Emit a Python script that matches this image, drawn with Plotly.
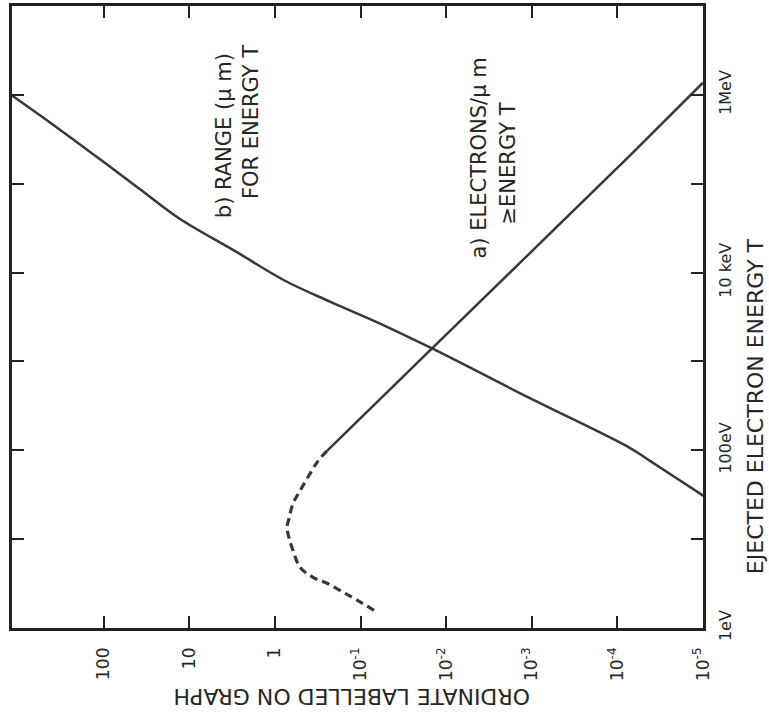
import plotly.graph_objects as go

# ---- data ----
# b) range (um) for energy T
range_energy_eV = [1.06e6, 4.89e5, 1.88e5, 8.67e4, 4.0e4, 1.80e4, 8090, 4710, 2670, 1400, 386, 106, 76, 32.5, 26.4]
range_um = [1310, 423, 110, 37.6, 12.8, 3.08, 0.762, 0.227, 0.0592, 0.0146, 1.05e-3, 7.1e-5, 4.16e-5, 1.08e-5, 7.85e-6]

# a) electrons / um with energy >= T (solid part)
elec_energy_eV = [98.4, 377, 1400, 2.08e5, 1.37e6]
elec_per_um = [0.246, 0.0592, 0.0146, 7.1e-5, 1.0e-5]

# a) low-energy extrapolation (dashed part)
elec_low_energy_eV = [98.4, 76.0, 54.5, 35.1, 25.1, 17.1, 13.5, 10.4, 7.46, 4.82, 3.72, 3.19, 2.53, 2.06, 1.51]
elec_low_per_um = [0.246, 0.313, 0.389, 0.508, 0.614, 0.684, 0.721, 0.684, 0.614, 0.508, 0.359, 0.246, 0.160, 0.110, 0.0641]

# axis ticks
ord_tickvals = [100, 10, 1, 0.1, 0.01, 1e-3, 1e-4, 1e-5]
ord_ticktext = ["100", "10", "1", "10<sup>-1</sup>", "10<sup>-2</sup>", "10<sup>-3</sup>",
                "10<sup>-4</sup>", "10<sup>-5</sup>"]
en_tickvals = [1, 100, 1e4, 1e6]
en_ticktext = ["1eV", "100eV", "10 keV", "1MeV"]
en_minor_tickvals = [10, 1e3, 1e5]

FONT = "DejaVu Sans"
INK = "#262626"
LINE = "#383838"

fig = go.Figure()
fig.add_trace(go.Scatter(x=range_um, y=range_energy_eV, mode="lines",
                         line=dict(color=LINE, width=2.5, shape="spline", smoothing=1.0),
                         hoverinfo="skip"))
fig.add_trace(go.Scatter(x=elec_per_um, y=elec_energy_eV, mode="lines",
                         line=dict(color=LINE, width=2.5),
                         hoverinfo="skip"))
fig.add_trace(go.Scatter(x=elec_low_per_um, y=elec_low_energy_eV, mode="lines",
                         line=dict(color=LINE, width=3.2, shape="spline", smoothing=1.0,
                                   dash="8px,5px"),
                         hoverinfo="skip"))

axis_common = dict(showgrid=False, zeroline=False, showline=True, linecolor="#222",
                   linewidth=2.5, mirror="ticks", ticks="inside", ticklen=12,
                   tickwidth=2, tickcolor="#222", tickangle=-90)

fig.update_xaxes(type="log", range=[3.07, -5], tickvals=ord_tickvals, ticktext=ord_ticktext,
                 tickfont=dict(family=FONT, size=17, color=INK), ticklabelstandoff=10,
                 **axis_common)
fig.update_yaxes(type="log", range=[0, 7], side="right", tickvals=en_tickvals,
                 ticktext=en_ticktext, tickfont=dict(family=FONT, size=16, color=INK),
                 ticklabelstandoff=6,
                 minor=dict(tickmode="array", tickvals=en_minor_tickvals, ticks="inside",
                            ticklen=12, tickwidth=2, tickcolor="#222", showgrid=False),
                 **axis_common)

def label(text, x, y, angle, size):
    fig.add_annotation(text=text, xref="paper", yref="paper", x=x, y=y,
                       xanchor="center", yanchor="middle", showarrow=False,
                       textangle=angle, font=dict(family=FONT, size=size, color=INK))

label("b) RANGE (μ m)", 0.308, 0.792, -90, 21)
label("FOR ENERGY T", 0.347, 0.813, -90, 21)
label("a) ELECTRONS/μ m", 0.676, 0.755, -90, 21)
label("≥ENERGY T", 0.718, 0.747, -90, 21)
label("ORDINATE LABELLED ON GRAPH", 0.492, -0.110, 180, 22)
label("EJECTED ELECTRON ENERGY T", 1.077, 0.357, -90, 22)

fig.update_layout(width=769, height=714, margin=dict(l=12, r=66, t=3, b=86),
                  paper_bgcolor="white", plot_bgcolor="white", showlegend=False,
                  font=dict(family=FONT, color=INK))

fig.write_html("out.html", config={"displayModeBar": False})
